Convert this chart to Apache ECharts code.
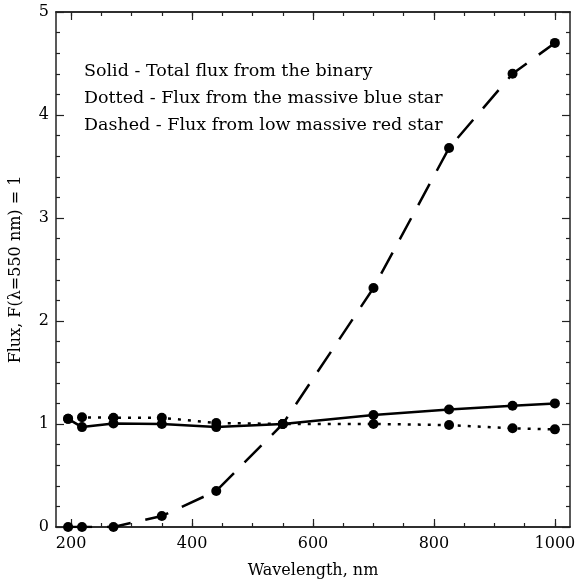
<!DOCTYPE html>
<html><head><meta charset="utf-8">
<script src="https://cdn.jsdelivr.net/npm/echarts@6/dist/echarts.min.js"></script>
<style>html,body{margin:0;padding:0;background:#fff}#c{width:577px;height:581px}</style>
</head><body><div id="c"></div>
<script>
const wavelengths = [195, 218, 270, 350, 440, 550, 700, 825, 930, 1000];
const totalFlux   = [1.05, 0.97, 1.005, 1.0, 0.97, 1.0, 1.087, 1.14, 1.178, 1.2];
const blueFlux    = [1.05, 1.065, 1.06, 1.06, 1.01, 1.0, 1.0, 0.99, 0.958, 0.948];
const redFlux     = [0.0, 0.0, 0.0, 0.107, 0.35, 1.0, 2.32, 3.68, 4.40, 4.70];
const xMajorTicks = [200, 400, 600, 800, 1000];
const xMinorTicks = [200, 250, 300, 350, 400, 450, 500, 550, 600, 650, 700, 750, 800, 850, 900, 950, 1000];
const notes = ['Solid - Total flux from the binary', 'Dotted - Flux from the massive blue star', 'Dashed - Flux from low massive red star'];

const FONT = 'DejaVu Serif';
const AX = '#222';
const pairs = arr => wavelengths.map((w, i) => [w, arr[i]]);

const xBase = {type: 'value', min: 175, max: 1025, gridIndex: 0,
  axisLine: {show: true, lineStyle: {color: AX, width: 1.5}}, splitLine: {show: false}};
const yBase = {type: 'value', min: 0, max: 5, interval: 1,
  axisLine: {show: true, lineStyle: {color: AX, width: 1.5}}, splitLine: {show: false}};

const chart = echarts.init(document.getElementById('c'));
chart.setOption({
  animation: false,
  backgroundColor: '#fff',
  grid: {left: 56, right: 7, top: 12, bottom: 54, containLabel: false, outerBoundsMode: 'none'},
  xAxis: [
    Object.assign({}, xBase, {position: 'bottom', name: 'Wavelength, nm', nameLocation: 'middle', nameGap: 36,
      nameTextStyle: {fontFamily: FONT, fontSize: 16, color: '#000'},
      axisTick: {show: true, inside: true, length: 8, customValues: xMajorTicks, lineStyle: {color: AX, width: 1.2}},
      axisLabel: {show: true, customValues: xMajorTicks, margin: 9, fontFamily: FONT, fontSize: 16, color: '#000',
        formatter: v => String(v)}}),
    Object.assign({}, xBase, {position: 'bottom',
      axisTick: {show: true, inside: true, length: 4, customValues: xMinorTicks, lineStyle: {color: AX, width: 1.2}},
      axisLabel: {show: false}}),
    Object.assign({}, xBase, {position: 'top',
      axisTick: {show: true, inside: true, length: 8, customValues: xMajorTicks, lineStyle: {color: AX, width: 1.2}},
      axisLabel: {show: false}}),
    Object.assign({}, xBase, {position: 'top',
      axisTick: {show: true, inside: true, length: 4, customValues: xMinorTicks, lineStyle: {color: AX, width: 1.2}},
      axisLabel: {show: false}})
  ],
  yAxis: [
    Object.assign({}, yBase, {position: 'left', name: 'Flux, F(λ=550 nm) = 1', nameLocation: 'middle', nameGap: 32,
      nameTextStyle: {fontFamily: FONT, fontSize: 16, color: '#000'},
      axisTick: {show: true, inside: true, length: 8, lineStyle: {color: AX, width: 1.2}},
      minorTick: {show: true, splitNumber: 5, length: 4, lineStyle: {color: AX, width: 1.2}},
      axisLabel: {show: true, margin: 7, fontFamily: FONT, fontSize: 16, color: '#000'}}),
    Object.assign({}, yBase, {position: 'right',
      axisTick: {show: true, inside: true, length: 8, lineStyle: {color: AX, width: 1.2}},
      minorTick: {show: true, splitNumber: 5, length: 4, lineStyle: {color: AX, width: 1.2}},
      axisLabel: {show: false}})
  ],
  series: [
    {name: 'Total', type: 'line', data: pairs(totalFlux), xAxisIndex: 0, yAxisIndex: 0,
      symbol: 'circle', symbolSize: 10, itemStyle: {color: '#000'},
      lineStyle: {color: '#000', width: 2.5, type: 'solid'}, z: 3},
    {name: 'Blue', type: 'line', data: pairs(blueFlux), xAxisIndex: 0, yAxisIndex: 0,
      symbol: 'circle', symbolSize: 10, itemStyle: {color: '#000'},
      lineStyle: {color: '#000', width: 2.5, type: [3, 7]}, z: 2},
    {name: 'Red', type: 'line', data: pairs(redFlux), xAxisIndex: 0, yAxisIndex: 0,
      symbol: 'circle', symbolSize: 10, itemStyle: {color: '#000'},
      lineStyle: {color: '#000', width: 2.5, type: [24, 15]}, z: 2}
  ],
  graphic: notes.map((t, i) => ({type: 'text', left: 84, top: 62 + i * 27,
    style: {text: t, fontFamily: FONT, fontSize: 17.5, fill: '#000'}}))
});
</script></body></html>
